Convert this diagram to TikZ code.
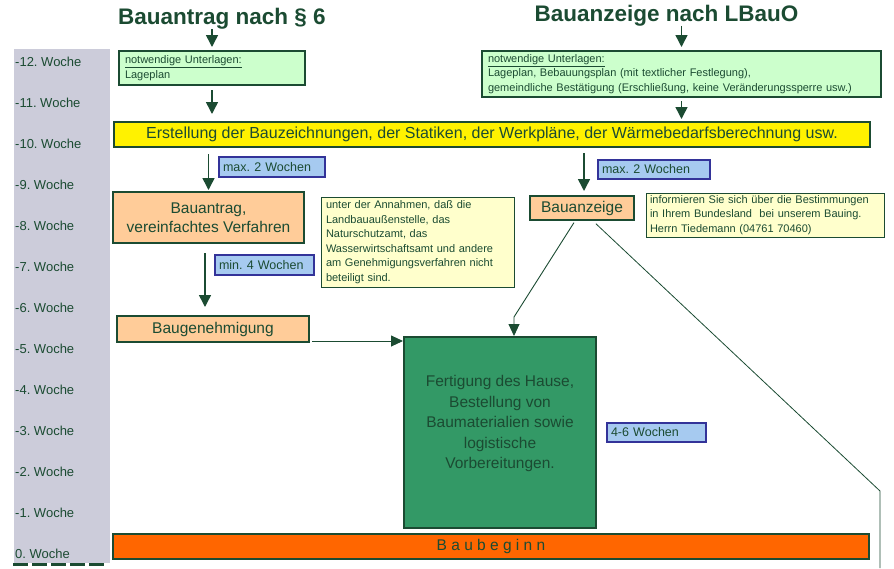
\documentclass[tikz,border=0pt]{standalone}
\usepackage{fontspec}
\setmainfont{Liberation Sans}
\usetikzlibrary{arrows.meta}
\definecolor{dg}{HTML}{1B4B32}
\definecolor{lgreen}{HTML}{CCFFCC}
\definecolor{peach}{HTML}{FFCC99}
\definecolor{lyel}{HTML}{FFFFCC}
\definecolor{lblue}{HTML}{A6CAF0}
\definecolor{dblue}{HTML}{333399}
\definecolor{mgreen}{HTML}{339966}
\definecolor{orng}{HTML}{FF6600}
\definecolor{stripc}{HTML}{CCCCDA}
\begin{document}
\frenchspacing
\begin{tikzpicture}[x=1pt,y=-1pt,
  every node/.style={text=dg},
  titletxt/.style={font=\fontsize{22.5}{26}\selectfont\bfseries, inner sep=0pt},
  box/.style={draw=dg, line width=2pt, inner sep=0pt},
  bigtxt/.style={font=\fontsize{15.5}{19.5}\selectfont},
  smalltxt/.style={font=\fontsize{11}{14.5}\selectfont},
  weektxt/.style={font=\fontsize{13}{14}\selectfont, inner sep=0pt, anchor=base west},
  docbox/.style={box, fill=lgreen, smalltxt, inner xsep=6pt, align=left},
  notebox/.style={draw=dg, line width=1pt, fill=lyel, smalltxt, inner ysep=0pt, align=left},
  lab/.style={draw=dblue, line width=2pt, fill=lblue, inner xsep=4pt, inner ysep=0pt,
     font=\fontsize{12.5}{14}\selectfont, align=left},
  arr/.style={draw=dg, line width=1.5pt, -{Triangle[width=12pt,length=12pt]}},
  thinarr/.style={draw=dg, line width=0.9pt, -{Triangle[width=11pt,length=12pt]}},
  thinline/.style={draw=dg, line width=0.8pt}
]
\useasboundingbox (0,0) rectangle (894,568);

% week strip
\fill[stripc] (14,49) rectangle (110,563);
\foreach \i/\t in {0/-12,1/-11,2/-10,3/-9,4/-8,5/-7,6/-6,7/-5,8/-4,9/-3,10/-2,11/-1}{
  \node[weektxt] (w\i) at (15,{66+41*\i}) {\t. Woche};
}
\node[weektxt] (w12) at (15,558) {0. Woche};
\draw[dg, line width=2.5pt, dash pattern=on 15pt off 4pt] (13,564.5) -- (104,564.5);

% titles
\node[titletxt, anchor=base] (t1) at (222,24) {Bauantrag nach § 6};
\node[titletxt, anchor=base] (t2) at (666.5,21) {Bauanzeige nach LBauO};

% documents
\node[docbox, text width=174pt, minimum height=34pt] (u1) at (212,68)
  {\underline{notwendige Unterlagen:}\\Lageplan};
\node[docbox, text width=387pt, minimum height=46pt] (u2) at (681.5,74)
  {\underline{notwendige Unterlagen:}\\Lageplan, Bebauungsplan (mit textlicher Festlegung),\\gemeindliche Bestätigung (Erschließung, keine Veränderungssperre usw.)};

% yellow bar
\node[box, fill=yellow, font=\fontsize{16}{19.5}\selectfont, minimum width=756pt, minimum height=25pt] (bar) at (492,134.5)
  {Erstellung der Bauzeichnungen, der Statiken, der Werkpläne, der Wärmebedarfsberechnung usw.};

% left path
\node[box, fill=peach, bigtxt, align=center, minimum width=191pt, minimum height=51pt] (ba) at (208.5,217.5)
  {Bauantrag,\\vereinfachtes Verfahren};
\node[box, fill=peach, bigtxt, minimum width=192pt, minimum height=26pt] (bg) at (213,329) {Baugenehmigung};

% right path
\node[box, fill=peach, bigtxt, minimum width=104pt, minimum height=24pt] (baz) at (582,208) {Bauanzeige};

% green box
\node[box, fill=mgreen, bigtxt, align=center, minimum width=192pt, minimum height=191pt,
      font=\fontsize{15.5}{20.5}\selectfont] (gr) at (500,432.5)
  {Fertigung des Hause,\\Bestellung von\\Baumaterialien sowie\\logistische\\Vorbereitungen.\\\mbox{}};

% Baubeginn bar
\node[box, fill=orng, bigtxt, minimum width=756pt, minimum height=25pt] (bb) at (491,546.5)
  {B a u b e g i n n};

% notes
\node[notebox, inner xsep=5pt, text width=183pt, minimum height=90pt] (nl) at (417.5,242)
  {unter der Annahmen, daß die\\Landbauaußenstelle, das\\Naturschutzamt, das\\Wasserwirtschaftsamt und andere\\am Genehmigungsverfahren nicht\\beteiligt sind.};
\node[notebox, inner xsep=4pt, text width=230pt, minimum height=44pt] (nr) at (765,215)
  {informieren Sie sich über die Bestimmungen\\in Ihrem Bundesland\ \ bei unserem Bauing.\\Herrn Tiedemann (04761 70460)};

% duration labels
\node[lab, text width=98pt, minimum height=20pt] (l1) at (272,167) {max. 2 Wochen};
\node[lab, text width=104pt, minimum height=19pt] (l2) at (654,169.5) {max. 2 Wochen};
\node[lab, text width=91pt, minimum height=20pt] (l3) at (264.5,265) {min. 4 Wochen};
\node[lab, text width=91pt, minimum height=19pt] (l4) at (656.5,432.5) {4-6 Wochen};

% connectors
\draw[arr, shorten >=3pt] (t1.south -| u1.north) -- (u1.north);
\draw[arr, shorten <=4pt, shorten >=7pt] (u1.south) -- (u1.south |- bar.north);
\draw[arr, shorten >=3pt] (t2.south -| u2.north) -- (u2.north);
\draw[arr, shorten <=3pt, shorten >=2pt] (u2.south) -- (u2.south |- bar.north);
\draw[arr, shorten <=6pt, shorten >=1pt] (bar.south -| ba.north) -- (ba.north);
\draw[arr, shorten <=5pt, shorten >=4pt] ([xshift=2pt]bar.south -| baz.north) -- ([xshift=2pt]baz.north);
\draw[arr, shorten <=9pt, shorten >=8pt] ([xshift=-3.5pt]ba.south) -- ([xshift=-3.5pt]ba.south |- bg.north);
\draw[thinarr, shorten <=2pt] ([yshift=2pt]bg.south east) -- ([yshift=2pt]bg.south east -| gr.west);
\coordinate (k1) at (514,317);
\draw[thinarr, shorten <=2pt] ([xshift=-7pt]baz.south) -- (k1) -- (k1 |- gr.north);
\coordinate (k2) at (880,491);
\coordinate (k3) at (880,568);
\draw[thinline, shorten <=4pt] ([xshift=11pt]baz.south) -- (k2) -- (k3);
\end{tikzpicture}
\end{document}
